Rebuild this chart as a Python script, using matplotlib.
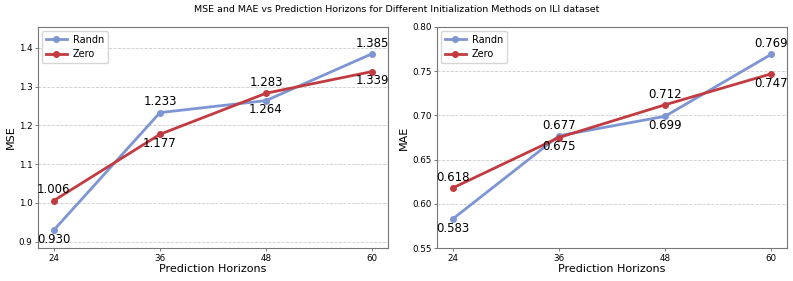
import matplotlib
matplotlib.use("Agg")
import matplotlib.pyplot as plt

horizons = [24, 36, 48, 60]
mse_randn = [0.930, 1.233, 1.264, 1.385]
mse_zero = [1.006, 1.177, 1.283, 1.339]
mae_randn = [0.583, 0.677, 0.699, 0.769]
mae_zero = [0.618, 0.675, 0.712, 0.747]

blue = "#7d95d2"
red = "#c23b40"

fig = plt.figure(figsize=(7.93, 2.81), dpi=100)
W, H = 793, 281
ax1 = fig.add_axes([38 / W, 1 - 248 / H, 350 / W, 221 / H])
ax2 = fig.add_axes([437 / W, 1 - 248 / H, 350 / W, 221 / H])

fig.text(0.5, 1 - 10 / H, "MSE and MAE vs Prediction Horizons for Different Initialization Methods on ILI dataset",
         ha="center", va="center", fontsize=6.8)


def draw(ax, r, z, ylabel, ylim, yticks, fmt):
    ax.plot(horizons, r, color=blue, lw=2, marker="o", ms=4, label="Randn")
    ax.plot(horizons, z, color=red, lw=2, marker="o", ms=4, label="Zero")
    for x, a, b in zip(horizons, r, z):
        for v, other in ((a, b), (b, a)):
            if v >= other:
                ax.annotate(fmt.format(v), (x, v), xytext=(0, 3), textcoords="offset points",
                            ha="center", va="bottom", fontsize=8.5)
            else:
                ax.annotate(fmt.format(v), (x, v), xytext=(0, -2), textcoords="offset points",
                            ha="center", va="top", fontsize=8.5)
    ax.set_xticks(horizons)
    ax.set_ylim(*ylim)
    ax.set_yticks(yticks)
    ax.tick_params(labelsize=6.3, length=2.5, width=0.6, pad=1.5, color="#666666")
    ax.set_xlabel("Prediction Horizons", fontsize=8, labelpad=1)
    ax.set_ylabel(ylabel, fontsize=8, labelpad=2)
    ax.grid(axis="y", linestyle="--", color="#cccccc", lw=0.6)
    ax.set_axisbelow(True)
    for s in ax.spines.values():
        s.set_color("#777777")
    ax.legend(loc="upper left", fontsize=7, handlelength=2.2, handletextpad=0.6,
              borderaxespad=0.4, borderpad=0.4, labelspacing=0.45)


draw(ax1, mse_randn, mse_zero, "MSE", (0.8835, 1.454), [0.9, 1.0, 1.1, 1.2, 1.3, 1.4], "{:.3f}")
draw(ax2, mae_randn, mae_zero, "MAE", (0.55, 0.80), [0.55, 0.60, 0.65, 0.70, 0.75, 0.80], "{:.3f}")

fig.savefig("out.png", dpi=100)
